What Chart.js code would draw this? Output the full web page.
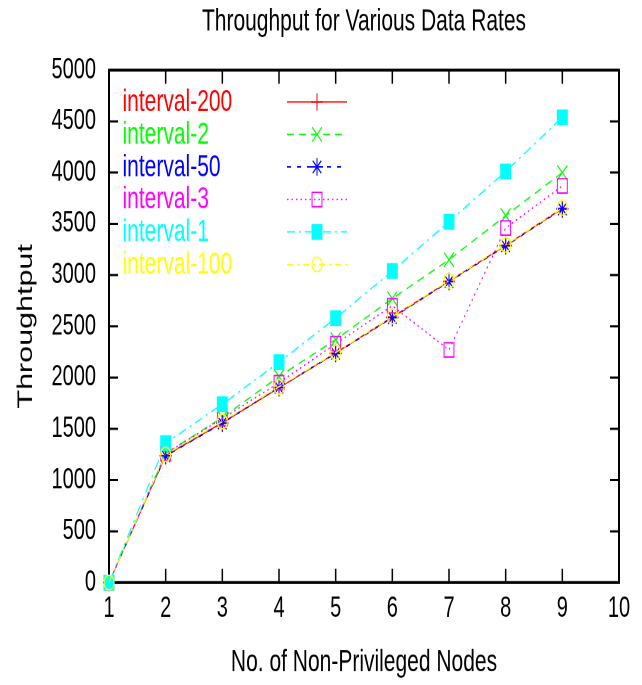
<!DOCTYPE html>
<html>
<head>
<meta charset="utf-8">
<title>Throughput for Various Data Rates</title>
<script src="https://cdn.jsdelivr.net/npm/chart.js@4/dist/chart.umd.min.js"></script>
<style>
  html, body { margin: 0; padding: 0; background: #ffffff; }
  /* The plot is laid out on a 642x472 surface and shown stretched to 642x685 */
  #chart { display: block; width: 642px !important; height: 685px !important; }
</style>
</head>
<body>
<canvas id="chart" width="642" height="472"></canvas>
<script>
// Number of non-privileged nodes (x values)
const nodes = [1, 2, 3, 4, 5, 6, 7, 8, 9];

// Throughput per data-rate interval
const interval200 = [0, 1240, 1560, 1900, 2240, 2590, 2940, 3290, 3650];
const interval2   = [0, 1260, 1610, 2010, 2370, 2770, 3150, 3580, 4000];
const interval50  = [0, 1235, 1555, 1905, 2235, 2585, 2935, 3285, 3645];
const interval3   = [0, 1260, 1600, 1950, 2330, 2700, 2270, 3460, 3870];
const interval1   = [0, 1360, 1740, 2150, 2580, 3040, 3520, 4010, 4540];
const interval100 = [0, 1250, 1570, 1910, 2245, 2595, 2945, 3295, 3655];

const seriesNames = ['interval-200', 'interval-2', 'interval-50', 'interval-3', 'interval-1', 'interval-100'];
const chartTitle = 'Throughput for Various Data Rates';

// Axis ranges and tick steps
const xRange = [1, 10];
const xStep = 1;
const yRange = [0, 5000];
const yStep = 500;

const FONT = "'Liberation Sans', Arial, Helvetica, sans-serif";

function series(values) {
  return values.map((v, i) => ({ x: nodes[i], y: v }));
}

const datasets = [
  { label: seriesNames[0], data: series(interval200), borderColor: '#ff0000', borderDash: [],
    pointStyle: 'cross', pointRadius: 6, fillPoint: false },
  { label: seriesNames[1], data: series(interval2), borderColor: '#00ff00', borderDash: [7, 5],
    pointStyle: 'crossRot', pointRadius: 7, fillPoint: false },
  { label: seriesNames[2], data: series(interval50), borderColor: '#0000ff', borderDash: [4, 6],
    pointStyle: 'star', pointRadius: 6, fillPoint: false },
  { label: seriesNames[3], data: series(interval3), borderColor: '#ff00ff', borderDash: [1.5, 3],
    pointStyle: 'rect', pointRadius: 7, fillPoint: false },
  { label: seriesNames[4], data: series(interval1), borderColor: '#00ffff', borderDash: [8, 4, 2, 4],
    pointStyle: 'rect', pointRadius: 7, fillPoint: true },
  { label: seriesNames[5], data: series(interval100), borderColor: '#ffff00', borderDash: [6, 4, 2, 4],
    pointStyle: 'circle', pointRadius: 5, fillPoint: false }
].map((d, i) => Object.assign(d, {
  backgroundColor: d.borderColor,
  pointBorderColor: d.borderColor,
  pointBackgroundColor: d.fillPoint ? d.borderColor : 'rgba(0,0,0,0)',
  pointBorderWidth: 1,
  pointHoverRadius: d.pointRadius,
  borderWidth: 1,
  tension: 0,
  fill: false,
  clip: false,
  order: 5 - i
}));

// Box frame with inward ticks on all four sides
const framePlugin = {
  id: 'frame',
  beforeDatasetsDraw(chart) {
    const { ctx, chartArea: a, scales: { x, y } } = chart;
    ctx.save();
    ctx.strokeStyle = '#000000';
    ctx.lineWidth = 2;
    ctx.strokeRect(a.left, a.top, a.right - a.left, a.bottom - a.top);
    ctx.lineWidth = 1.5;
    ctx.beginPath();
    x.ticks.forEach(t => {
      if (t.value === xRange[0] || t.value === xRange[1]) return;
      const px = x.getPixelForValue(t.value);
      ctx.moveTo(px, a.bottom); ctx.lineTo(px, a.bottom - 9.5);
      ctx.moveTo(px, a.top); ctx.lineTo(px, a.top + 9.5);
    });
    y.ticks.forEach(t => {
      if (t.value === yRange[0] || t.value === yRange[1]) return;
      const py = y.getPixelForValue(t.value);
      ctx.moveTo(a.left, py); ctx.lineTo(a.left + 9, py);
      ctx.moveTo(a.right, py); ctx.lineTo(a.right - 9, py);
    });
    ctx.stroke();
    ctx.restore();
  }
};

// Title centred over the plot box
const titlePlugin = {
  id: 'plotTitle',
  afterDraw(chart) {
    const { ctx, chartArea: a } = chart;
    ctx.save();
    ctx.font = '21px ' + FONT;
    ctx.fillStyle = '#000000';
    ctx.textAlign = 'center';
    ctx.textBaseline = 'middle';
    ctx.fillText(chartTitle, (a.left + a.right) / 2, 15.2);
    ctx.restore();
  }
};

// Key inside the plot: coloured name, then a line sample with its marker
const keyPlugin = {
  id: 'key',
  afterDatasetsDraw(chart) {
    const { ctx, chartArea: a } = chart;
    ctx.save();
    ctx.font = '21px ' + FONT;
    ctx.textBaseline = 'middle';
    ctx.textAlign = 'left';
    chart.data.datasets.forEach((d, i) => {
      const yy = a.top + 21.9 + i * 22.4;
      ctx.fillStyle = d.borderColor;
      ctx.fillText(d.label, a.left + 13.5, yy + 0.5);
      ctx.strokeStyle = d.borderColor;
      ctx.lineWidth = 1;
      ctx.setLineDash(d.borderDash);
      ctx.beginPath();
      ctx.moveTo(a.left + 178, yy);
      ctx.lineTo(a.left + 238, yy);
      ctx.stroke();
      ctx.setLineDash([]);
      ctx.fillStyle = d.pointBackgroundColor;
      ctx.strokeStyle = d.pointBorderColor;
      Chart.helpers.drawPoint(ctx, {
        pointStyle: d.pointStyle, radius: d.pointRadius, rotation: 0, borderWidth: 1
      }, a.left + 208, yy);
    });
    ctx.restore();
  }
};

Chart.defaults.font.family = FONT;
Chart.defaults.color = '#000000';

new Chart(document.getElementById('chart'), {
  type: 'line',
  data: { datasets },
  options: {
    responsive: false,
    animation: false,
    devicePixelRatio: 2,
    layout: { padding: { left: 0, right: 23, top: 48.3, bottom: 0 } },
    plugins: {
      legend: { display: false },
      tooltip: { enabled: false },
      title: { display: false }
    },
    scales: {
      x: {
        type: 'linear',
        min: xRange[0], max: xRange[1],
        grid: { display: false, drawTicks: false },
        border: { display: false },
        ticks: { stepSize: xStep, padding: 6, font: { size: 20 }, color: '#000000',
                 callback: v => String(v) },
        title: {
          display: true,
          text: 'No. of Non-Privileged Nodes',
          color: '#000000',
          font: { size: 21, family: FONT },
          padding: { top: 0, bottom: 2.8 }
        },
        afterFit(scale) { scale.height = 70.6; }
      },
      y: {
        min: yRange[0], max: yRange[1],
        grid: { display: false, drawTicks: false },
        border: { display: false },
        ticks: { stepSize: yStep, padding: 13, font: { size: 20 }, color: '#000000',
                 callback: v => String(v) },
        title: {
          display: true,
          text: 'Throughtput',
          color: '#000000',
          font: { size: 21, family: FONT },
          padding: { top: 13.4, bottom: 0 }
        },
        afterFit(scale) { scale.width = 109; }
      }
    }
  },
  plugins: [framePlugin, keyPlugin, titlePlugin]
});
</script>
</body>
</html>
